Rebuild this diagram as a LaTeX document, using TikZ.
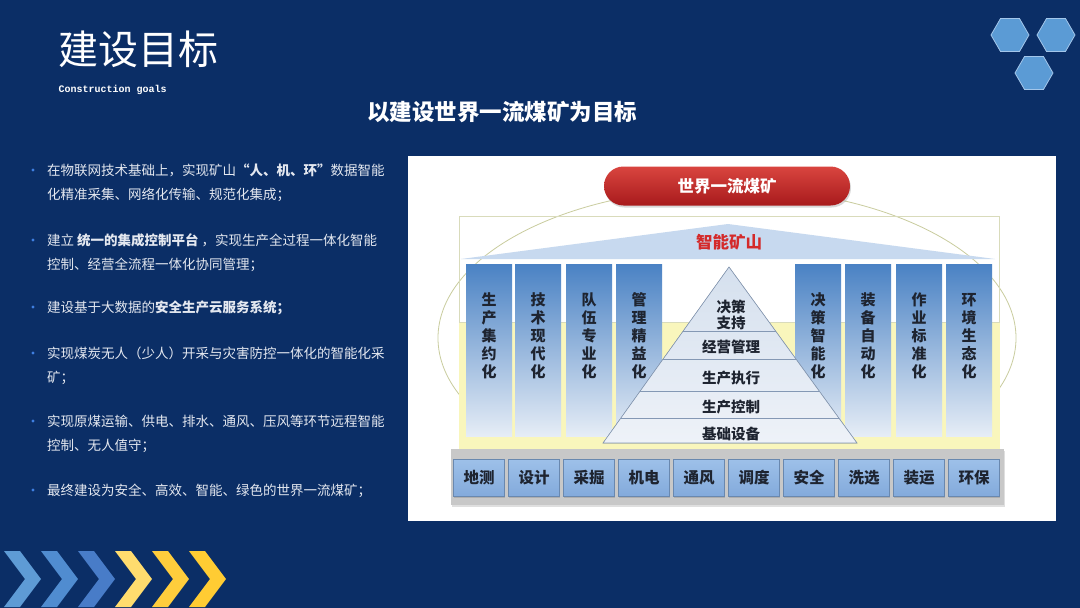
\documentclass[tikz,border=0pt]{standalone}
\usepackage{fontspec}
\setmainfont{Noto Sans CJK SC}
\newfontfamily\monofont{Liberation Mono}
\usetikzlibrary{calc,shadows,shapes.geometric}
\definecolor{navy}{HTML}{0B2E66}
\definecolor{hexblue}{HTML}{5B9BD5}
\definecolor{hexrim}{HTML}{A3C6EA}
\definecolor{txtgray}{HTML}{E4E8F0}
\definecolor{dotblue}{HTML}{3F7FE0}
\definecolor{chev1}{HTML}{5E9BD5}
\definecolor{chev2}{HTML}{508CD0}
\definecolor{chev3}{HTML}{487CC8}
\definecolor{chev4}{HTML}{FFDC6E}
\definecolor{chev5}{HTML}{FFCD3C}
\definecolor{chev6}{HTML}{FFCC33}
\definecolor{pillred}{HTML}{D9453F}
\definecolor{pilldark}{HTML}{A81A1C}
\definecolor{minered}{HTML}{D42A2A}
\definecolor{rimolive}{HTML}{C9CC9E}
\definecolor{paleyellow}{HTML}{F9F6BC}
\definecolor{roofblue}{HTML}{C7D9EF}
\definecolor{colblue}{HTML}{4A82C4}
\definecolor{colmid}{HTML}{A4C1E4}
\definecolor{colpale}{HTML}{E6EDF6}
\definecolor{pyrtop}{HTML}{D5E0EE}
\definecolor{pyrbot}{HTML}{EEF2F8}
\definecolor{pyrline}{HTML}{8498B4}
\definecolor{bargray}{HTML}{C8C8C8}
\definecolor{unittop}{HTML}{9DC0E9}
\definecolor{unitbot}{HTML}{83AADB}
\definecolor{inkdark}{HTML}{1E2430}
\tikzset{hexcell/.style={regular polygon, regular polygon sides=6, minimum size=38pt, inner sep=0pt,
    fill=hexblue, draw=hexrim, line width=0.8pt},
  bulletline/.style={anchor=base west, align=left, inner sep=0pt, text=txtgray, font=\fontsize{13.5}{24}\selectfont},
  colbar/.style={anchor=north, minimum width=46pt, minimum height=172pt, inner sep=0pt,
    top color=colblue, middle color=colmid, bottom color=colpale},
  coltext/.style={align=center, text=inkdark, font=\bfseries\fontsize{15}{18}\selectfont},
  pyrtext/.style={align=center, text=inkdark, font=\bfseries\fontsize{14.5}{16}\selectfont},
  unitbox/.style={minimum width=51pt, minimum height=37pt, inner sep=0pt, top color=unittop, bottom color=unitbot,
    draw=unitbot!80!black, line width=0.3pt, drop shadow={opacity=0.35, shadow xshift=0.8pt, shadow yshift=-1.5pt},
    text=inkdark, font=\bfseries\fontsize{15.5}{16}\selectfont}}

\begin{document}
\begin{tikzpicture}[x=1pt,y=-1pt]
  \useasboundingbox (0,0) rectangle (1080,608);
  \fill[navy] (0,0) rectangle (1080,608);
  % heading
  \node[text=white, font=\fontsize{40}{44}\selectfont] (title) at (138,49) {建设目标};
  \node[anchor=west, text=white, font=\monofont\bfseries\fontsize{10}{11}\selectfont] (subtitle) at (55,90) {Construction goals};
  \node[hexcell] (hexa) at (1010,35) {};
  \node[hexcell] (hexb) at (1056,35) {};
  \node[hexcell] (hexc) at (1034,73) {};
  \node[text=white, font=\bfseries\fontsize{22.5}{24}\selectfont] (goal) at (502,112) {以建设世界一流煤矿为目标};
  % bullet list
  \foreach \y in {170,240,307,353,421,490}
    \fill[dotblue] (33,\y) circle (1.6);
  \node[bulletline] (b1) at (47,199) {在物联网技术基础上，实现矿山\textbf{“人、机、环”}数据智能\\化精准采集、网络化传输、规范化集成；};
  \node[bulletline] (b2) at (47,269) {建立 \textbf{统一的集成控制平台} ，实现生产全过程一体化智能\\控制、经营全流程一体化协同管理；};
  \node[bulletline] (b3) at (47,312) {建设基于大数据的\textbf{安全生产云服务系统；}};
  \node[bulletline] (b4) at (47,382) {实现煤炭无人（少人）开采与灾害防控一体化的智能化采\\矿；};
  \node[bulletline] (b5) at (47,450) {实现原煤运输、供电、排水、通风、压风等环节远程智能\\控制、无人值守；};
  \node[bulletline] (b6) at (47,495) {最终建设为安全、高效、智能、绿色的世界一流煤矿；};
  % chevrons
  \foreach \x/\c in {4/chev1,41/chev2,78/chev3,115/chev4,152/chev5,189/chev6}
    \fill[\c] (\x,551) -- ++(16,0) -- ++(21,28) -- ++(-21,28) -- ++(-16,0) -- ++(21,-28) -- cycle;
  % diagram panel
  \fill[white] (408,156) rectangle (1056,521);
  \draw[rimolive, line width=0.8pt] (727,338) ellipse [x radius=289, y radius=150];
  \fill[paleyellow] (459,322) rectangle (1000,449);
  \draw[rimolive!70, line width=0.6pt] (459,216) rectangle (999,322);
  \fill[roofblue] (461,259) -- (728,224) -- (995,259) -- cycle;
  \node[text=minered, font=\bfseries\fontsize{16.5}{18}\selectfont] (smart) at (729,242) {智能矿山};
  \node[rounded corners=19.5pt, minimum width=246pt, minimum height=39pt, top color=pillred, bottom color=pilldark,
    drop shadow={opacity=0.3, shadow xshift=1pt, shadow yshift=-2pt},
    text=white, font=\bfseries\fontsize{16.5}{18}\selectfont] (world) at (727,186) {世界一流煤矿};
  % columns
  \foreach \x/\txt [count=\i] in {489/{生\\产\\集\\约\\化}, 538/{技\\术\\现\\代\\化}, 589/{队\\伍\\专\\业\\化},
      639/{管\\理\\精\\益\\化}, 818/{决\\策\\智\\能\\化}, 868/{装\\备\\自\\动\\化}, 919/{作\\业\\标\\准\\化},
      969/{环\\境\\生\\态\\化}}{
    \node[colbar] (col\i) at (\x,264) {};
    \node[coltext] (colt\i) at ($(col\i.north)+(0,72)$) {\txt};}
  % pyramid
  \coordinate (apex) at (729,267);
  \coordinate (baseL) at (603,443);
  \coordinate (baseR) at (857,443);
  \fill[top color=pyrtop, bottom color=pyrbot] (apex) -- (baseR) -- (baseL) -- cycle;
  \foreach \t in {0.364,0.523,0.705,0.858}
    \draw[pyrline, line width=0.6pt] ($(apex)!\t!(baseL)$) -- ($(apex)!\t!(baseR)$);
  \draw[pyrline, line width=0.6pt] (apex) -- (baseR) -- (baseL) -- cycle;
  \node[pyrtext] (lv5) at (731,315) {决策\\支持};
  \node[pyrtext] (lv4) at (731,347) {经营管理};
  \node[pyrtext] (lv3) at (731,378) {生产执行};
  \node[pyrtext] (lv2) at (731,407) {生产控制};
  \node[pyrtext] (lv1) at (731,434) {基础设备};
  % business units
  \node[fill=bargray, minimum width=553pt, minimum height=56pt, inner sep=0pt,
    drop shadow={opacity=0.25, shadow xshift=1pt, shadow yshift=-2pt}] (bar) at (727.5,477) {};
  \foreach \lbl [count=\i] in {地测,设计,采掘,机电,通风,调度,安全,洗选,装运,环保}
    \node[unitbox] (unit\i) at ({479+55*(\i-1)},478) {\lbl};
\end{tikzpicture}
\end{document}
